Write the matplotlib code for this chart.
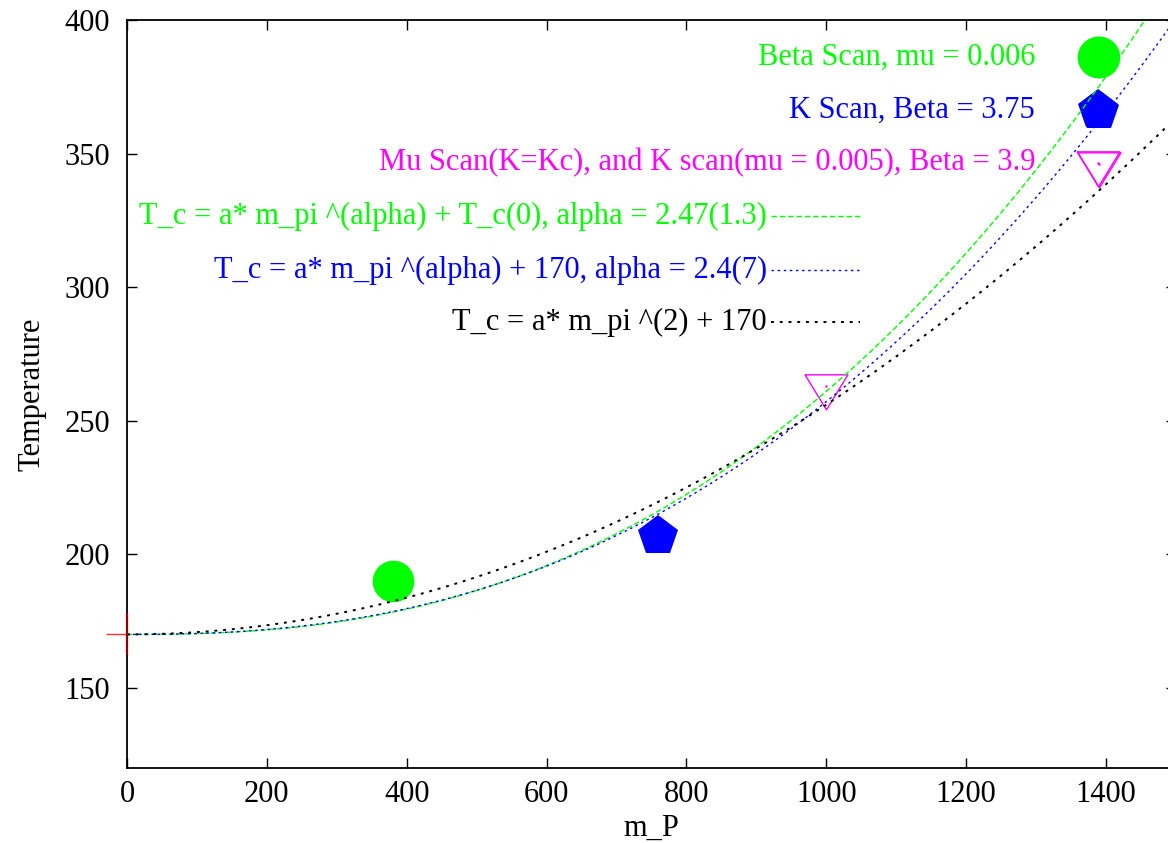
import numpy as np
import matplotlib
matplotlib.use("Agg")
from matplotlib import pyplot as plt
from matplotlib.path import Path

plt.rcParams['font.family'] = ['Liberation Serif', 'DejaVu Serif']
plt.rcParams['font.size'] = 22

# measured transition temperatures
beta_scan_m = [380, 1390]
beta_scan_T = [190, 386]
k_scan_m = [760, 1390]
k_scan_T = [207, 366]
mu_scan_m = [1000, 1390]
mu_scan_T = [263, 346]

# chiral limit point
chiral_m = [0]
chiral_T = [170]

# fit parameters  T_c = a * m^alpha + T0
fit_green = dict(a=3.54e-6, alpha=2.47, T0=170)
fit_blue = dict(a=5.5e-6, alpha=2.4, T0=170)
fit_black = dict(a=8.6e-5, alpha=2.0, T0=170)

point_labels = ["Beta Scan, mu = 0.006",
                "K Scan, Beta = 3.75",
                "Mu Scan(K=Kc), and K scan(mu = 0.005), Beta = 3.9"]
fit_labels = ["T_c = a* m_pi ^(alpha) + T_c(0), alpha = 2.47(1.3)",
              "T_c = a* m_pi ^(alpha) + 170, alpha = 2.4(7)",
              "T_c = a* m_pi ^(2) + 170"]

x_ticks = list(range(0, 1401, 200))
y_ticks = list(range(150, 401, 50))

# down triangle centred on its centroid, like gnuplot's
tri_down = Path([(-0.92, 0.5), (0.92, 0.5), (0.0, -1.0), (-0.92, 0.5)])
half_cross = Path([(-1, 0), (0, 0)], [Path.MOVETO, Path.LINETO])
vert_bar = Path([(0, -1), (0, 1)], [Path.MOVETO, Path.LINETO])


def fit_curve(m, p):
    return p['a'] * m ** p['alpha'] + p['T0']


def main():
    fig = plt.figure(figsize=(11.68, 8.43), dpi=100)
    W, H = 1168, 843
    left, top, right, bottom = 127, 20, 1176, 768
    ax = fig.add_axes([left / W, 1 - bottom / H, (right - left) / W, (bottom - top) / H])

    xlim = (0, 1500)
    ylim = (120, 400)

    # points
    ax.plot(beta_scan_m, beta_scan_T, 'o', color='#00ff00', ms=30, mew=0, zorder=2)
    ax.plot(k_scan_m, k_scan_T, 'p', color='#0000ff', ms=30, mew=0, zorder=2)
    ax.plot(mu_scan_m, mu_scan_T, linestyle='none', marker=tri_down, ms=33.6,
            mfc='none', mec='#ff00ff', mew=1.0, zorder=2)
    ax.plot(mu_scan_m, mu_scan_T, '.', color='#ff00ff', ms=1.5, zorder=2)
    ax.plot(chiral_m, chiral_T, linestyle='none', marker=half_cross, ms=30,
            mec='#ff3030', mew=1.0, clip_on=False, zorder=2)
    ax.plot(chiral_m, chiral_T, linestyle='none', marker=vert_bar, ms=30,
            mec='#900000', mew=1.6, clip_on=False, zorder=4)

    # fit curves
    m = np.linspace(0, 1500, 600)
    styles = [(fit_green, '#00ff00', (4, 2), 1.0),
              (fit_blue, '#0000ff', (1.8, 2.6), 1.0),
              (fit_black, 'black', (1.5, 3.0), 1.4)]
    for p, c, dash, lw in styles:
        ax.plot(m, fit_curve(m, p), color=c, lw=lw, dashes=dash, zorder=3)

    # key: points
    key_pts = [('o', '#00ff00', dict(mew=0, ms=30)),
               ('p', '#0000ff', dict(mew=0, ms=30)),
               (tri_down, '#ff00ff', dict(mfc='none', mew=1.0, ms=33.6))]
    pt_rows = [0.9505, 0.8797, 0.8088]
    for (mk, c, kw), lab, y in zip(key_pts, point_labels, pt_rows):
        ax.text(0.8656, y, lab, color=c, ha='right', va='center', transform=ax.transAxes)
        if 'mfc' in kw:
            ax.plot([0.9257], [y], linestyle='none', marker=mk, mec=c,
                    transform=ax.transAxes, clip_on=False, zorder=2, **kw)
            ax.plot([0.9257], [y], '.', color=c, ms=1.5, transform=ax.transAxes)
        else:
            ax.plot([0.9257], [y], linestyle='none', marker=mk, color=c,
                    transform=ax.transAxes, clip_on=False, zorder=2, **kw)

    # key: fits
    fit_rows = [0.738, 0.6658, 0.5963]
    for (p, c, dash, lw), lab, y in zip(styles, fit_labels, fit_rows):
        ax.text(0.6101, y, lab, color=c, ha='right', va='center', transform=ax.transAxes)
        ax.plot([0.614, 0.699], [y, y], color=c, lw=lw, dashes=dash,
                transform=ax.transAxes)

    ax.set_xlim(*xlim)
    ax.set_ylim(*ylim)
    ax.set_xticks(x_ticks)
    ax.set_yticks(y_ticks)
    ax.tick_params(direction='in', length=7.2, width=1.0, top=True, right=True)
    ax.tick_params(axis='y', pad=12)
    ax.tick_params(axis='x', pad=9)
    for s in ax.spines.values():
        s.set_linewidth(1.3)

    ax.set_xlabel("m_P", labelpad=3)
    ax.set_ylabel("Temperature", labelpad=13)

    fig.savefig("out.png", dpi=100)


if __name__ == "__main__":
    main()
